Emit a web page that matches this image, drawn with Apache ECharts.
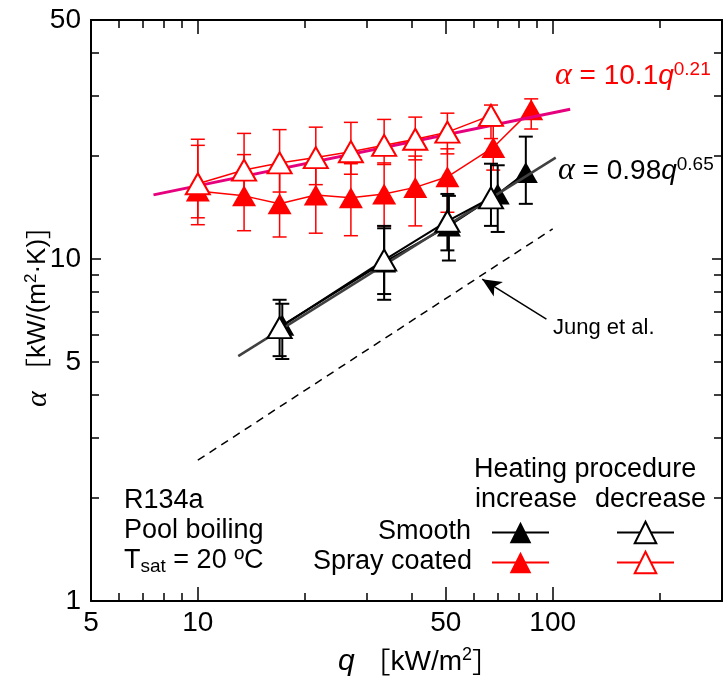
<!DOCTYPE html>
<html>
<head>
<meta charset="utf-8">
<script src="https://cdn.jsdelivr.net/npm/echarts@6/dist/echarts.min.js"></script>
<style>
html, body { margin: 0; padding: 0; background: #fff; }
#main { width: 727px; height: 686px; }
</style>
</head>
<body>
<div id="main"></div>
<script>
// q [kW/m2] and alpha [kW/(m2 K)]
var qRedInc = [10, 13.5, 17, 21.5, 27, 33.5, 41, 50.5, 68, 87];
var aRedInc = [15.8, 15.3, 14.5, 15.4, 15.1, 15.5, 16.2, 17.4, 21.2, 27.3];
var loRedInc = [12.6, 12.1, 11.6, 11.9, 11.7, 12.5, 12.5, 13.7, 18.2, 24.0];
var hiRedInc = [21.5, 20.2, 18.8, 19.0, 19.0, 19.1, 20.0, 21.0, 24.5, 29.4];

var qRedDec = [10, 13.5, 17, 21.5, 27, 33.5, 41, 50.5, 67];
var aRedDec = [16.6, 18.2, 19.1, 19.8, 20.6, 21.5, 22.4, 23.5, 26.3];
var loRedDec = [13.2, 14.5, 15.7, 16.5, 17.7, 18.9, 19.5, 20.3, 22.5];
var hiRedDec = [22.4, 23.3, 23.9, 24.3, 25.1, 25.6, 26.0, 26.7, 28.2];

var qBlkInc = [17.3, 33.5, 51, 70, 84];
var aBlkInc = [6.4, 9.8, 12.5, 15.5, 17.9];
var loBlkInc = [5.1, 7.6, 9.9, 12.0, 14.5];
var hiBlkInc = [7.4, 12.3, 15.3, 18.8, 22.8];

var qBlkDec = [17, 33.5, 50.5, 67];
var aBlkDec = [6.3, 9.93, 12.9, 15.1];
var loBlkDec = [5.2, 7.9, 10.6, 12.5];
var hiBlkDec = [7.6, 12.5, 15.5, 19.0];

// correlation lines (end points)
var qFitRed = [7.5, 112];
var aFitRed = [15.4, 27.4];
var qFitBlk = [13, 102];
var aFitBlk = [5.2, 19.8];
var qJung = [10, 100];
var aJung = [2.58, 12.25];
// arrow pointing at the Jung et al. line: [q, alpha]
var arrowTail = [96, 6.67];
var arrowHead = [63.3, 8.73];

// axis ticks
var xLabels = [5, 10, 50, 100];
var xMajor = [10, 50, 100];
var xMinor = [6, 7, 8, 9, 20, 30, 40, 60, 70, 80, 90, 200];
var yLabels = [1, 5, 10, 50];
var yMajor = [10];
var yMinor = [2, 3, 4, 5, 6, 7, 8, 9, 20, 30, 40];

var RED = '#ff0000';
var PINK = '#e6007e';
var FONT = '"Liberation Sans", Arial, sans-serif';
var SERIF = '"Liberation Serif", "Times New Roman", serif';
var CJK = '"Noto Sans CJK JP", sans-serif';

function pairs(xs, ys) {
    return xs.map(function (x, i) { return [x, ys[i]]; });
}

function errSeries(q, lo, hi, color, lw, z) {
    return {
        type: 'custom',
        silent: true,
        z: z,
        encode: { x: 0, y: [1, 2] },
        data: q.map(function (x, i) { return [x, lo[i], hi[i]]; }),
        renderItem: function (params, api) {
            var p1 = api.coord([api.value(0), api.value(1)]);
            var p2 = api.coord([api.value(0), api.value(2)]);
            var w = 7;
            function seg(x1, y1, x2, y2) {
                return { type: 'line', shape: { x1: x1, y1: y1, x2: x2, y2: y2 },
                    style: { stroke: color, lineWidth: lw } };
            }
            return { type: 'group', children: [
                seg(p1[0], p1[1], p2[0], p2[1]),
                seg(p1[0] - w, p1[1], p1[0] + w, p1[1]),
                seg(p2[0] - w, p2[1], p2[0] + w, p2[1])
            ] };
        }
    };
}

function xAx(pos, ticks, len, labels) {
    return {
        type: 'log', logBase: 10, min: 5, max: 300, position: pos,
        axisLine: { show: !!labels || pos === 'top', onZero: false, lineStyle: { color: '#000', width: 2 } },
        axisTick: { show: true, inside: true, length: len, customValues: ticks, lineStyle: { color: '#000', width: 1.5 } },
        axisLabel: labels ? { show: true, customValues: labels, fontSize: 28, color: '#000', fontFamily: FONT, margin: 8 } : { show: false },
        splitLine: { show: false },
        minorTick: { show: false }
    };
}

function yAx(pos, ticks, len, labels) {
    return {
        type: 'log', logBase: 10, min: 1, max: 50, position: pos,
        axisLine: { show: !!labels || pos === 'right', onZero: false, lineStyle: { color: '#000', width: 2 } },
        axisTick: { show: true, inside: true, length: len, customValues: ticks, lineStyle: { color: '#000', width: 1.5 } },
        axisLabel: labels ? { show: true, customValues: labels, fontSize: 28, color: '#000', fontFamily: FONT, margin: 10 } : { show: false },
        splitLine: { show: false },
        minorTick: { show: false }
    };
}

function mkLegend(name, left, top) {
    return {
        data: [name], left: left, top: top, padding: 0, itemGap: 0,
        itemWidth: 57, itemHeight: 27, selectedMode: false,
        formatter: function () { return ''; }
    };
}

var eqRich = {
    a: { fontFamily: SERIF, fontStyle: 'italic', fontSize: 32, lineHeight: 32 },
    q: { fontFamily: FONT, fontStyle: 'italic', fontSize: 28, lineHeight: 32 },
    n: { fontFamily: FONT, fontSize: 28, lineHeight: 32 },
    s: { fontFamily: FONT, fontSize: 19, lineHeight: 19, verticalAlign: 'top' }
};
var xNameRich = {
    q: { fontFamily: FONT, fontStyle: 'italic', fontSize: 30, lineHeight: 32 },
    n: { fontFamily: FONT, fontSize: 28, lineHeight: 32 },
    b: { fontFamily: CJK, fontSize: 28, lineHeight: 32 },
    s: { fontFamily: FONT, fontSize: 18, lineHeight: 18, verticalAlign: 'top' }
};
var yNameRich = {
    a: { fontFamily: SERIF, fontStyle: 'italic', fontSize: 30, lineHeight: 30 },
    n: { fontFamily: FONT, fontSize: 26, lineHeight: 30 },
    b: { fontFamily: CJK, fontSize: 26, lineHeight: 30 },
    s: { fontFamily: FONT, fontSize: 17, lineHeight: 17, verticalAlign: 'top' }
};

function label(x, y, text, align, extra) {
    var st = { text: text, fill: '#000', font: '27px ' + FONT, align: align || 'left', verticalAlign: 'middle' };
    for (var k in extra) st[k] = extra[k];
    return { type: 'text', x: x, y: y, z: 100, style: st };
}

var chart = echarts.init(document.getElementById('main'));
var option = {
    animation: false,
    backgroundColor: '#fff',
    grid: { left: 91, right: 5, top: 20, bottom: 85, containLabel: false },
    xAxis: [
        xAx('bottom', xMajor, 14, xLabels),
        xAx('bottom', xMinor, 8, null),
        xAx('top', xMajor, 14, null),
        xAx('top', xMinor, 8, null)
    ],
    yAxis: [
        yAx('left', yMajor, 10, yLabels),
        yAx('left', yMinor, 8, null),
        yAx('right', yMajor, 10, null),
        yAx('right', yMinor, 8, null)
    ],
    legend: [
        mkLegend('Smooth increase', 491, 519),
        mkLegend('Smooth decrease', 616, 519),
        mkLegend('Spray coated increase', 491, 549),
        mkLegend('Spray coated decrease', 616, 549)
    ],
    series: [
        errSeries(qRedInc, loRedInc, hiRedInc, RED, 1.5, 1),
        errSeries(qRedDec, loRedDec, hiRedDec, RED, 1.5, 1),
        errSeries(qBlkInc, loBlkInc, hiBlkInc, '#000', 2, 1),
        errSeries(qBlkDec, loBlkDec, hiBlkDec, '#000', 2, 1),
        {
            name: 'Jung et al.', type: 'line', data: pairs(qJung, aJung), z: 2,
            symbol: 'none', lineStyle: { color: '#000', width: 1.5, type: [8, 6] },
            markLine: {
                silent: true, symbol: ['none', 'arrow'], symbolSize: [13, 19],
                label: { show: false },
                lineStyle: { color: '#000', width: 1.5, type: 'solid' },
                data: [[{ coord: arrowTail }, { coord: arrowHead }]]
            }
        },
        {
            name: 'Smooth increase', type: 'line', data: pairs(qBlkInc, aBlkInc), z: 3,
            symbol: 'triangle', symbolSize: [24, 21],
            itemStyle: { color: '#000' }, lineStyle: { color: '#000', width: 2 }
        },
        {
            name: 'Spray coated increase', type: 'line', data: pairs(qRedInc, aRedInc), z: 3,
            symbol: 'triangle', symbolSize: [24, 21],
            itemStyle: { color: RED }, lineStyle: { color: RED, width: 1.5 }
        },
        {
            name: 'fit spray', type: 'line', data: pairs(qFitRed, aFitRed), z: 4,
            symbol: 'none', lineStyle: { color: PINK, width: 3 }
        },
        {
            name: 'fit smooth', type: 'line', data: pairs(qFitBlk, aFitBlk), z: 4,
            symbol: 'none', lineStyle: { color: '#404040', width: 2.5 }
        },
        {
            name: 'Smooth decrease', type: 'line', data: pairs(qBlkDec, aBlkDec), z: 5,
            symbol: 'triangle', symbolSize: [24, 21],
            itemStyle: { color: '#fff', borderColor: '#000', borderWidth: 2 },
            lineStyle: { color: '#000', width: 2 }
        },
        {
            name: 'Spray coated decrease', type: 'line', data: pairs(qRedDec, aRedDec), z: 5,
            symbol: 'triangle', symbolSize: [24, 21],
            itemStyle: { color: '#fff', borderColor: RED, borderWidth: 2 },
            lineStyle: { color: RED, width: 1.5 }
        }
    ],
    graphic: [
        label(555, 76, '{a|α}{n| = 10.1}{q|q}{s|0.21}', 'left', { fill: RED, rich: eqRich }),
        label(558, 171, '{a|α}{n| = 0.98}{q|q}{s|0.65}', 'left', { rich: eqRich }),
        label(553, 328, 'Jung et al.', 'left', { font: '22px ' + FONT }),
        label(124, 501, 'R134a'),
        label(124, 531, 'Pool boiling'),
        label(124, 561, '{n|T}{b|sat}{n| = 20 ºC}', 'left', { rich: {
            n: { fontFamily: FONT, fontSize: 27, lineHeight: 30 },
            b: { fontFamily: FONT, fontSize: 19, lineHeight: 19, verticalAlign: 'bottom' }
        } }),
        label(474, 470, 'Heating procedure'),
        label(475, 500, 'increase'),
        label(595, 500, 'decrease'),
        label(471, 532, 'Smooth', 'right'),
        label(472, 562, 'Spray coated', 'right'),
        label(338, 662, '{q|q}{n| }{b|［}{n|kW/m}{s|2}{b|］}', 'left', { rich: xNameRich }),
        {
            type: 'text', x: 38, y: 310, rotation: Math.PI / 2, z: 100,
            style: {
                text: '{a|α}{n| }{b|［}{n|kW/(m}{s|2}{n|·K)}{b|］}', align: 'center', verticalAlign: 'middle',
                fill: '#000', font: '26px ' + FONT, rich: yNameRich
            }
        }
    ]
};
chart.setOption(option);
</script>
</body>
</html>
